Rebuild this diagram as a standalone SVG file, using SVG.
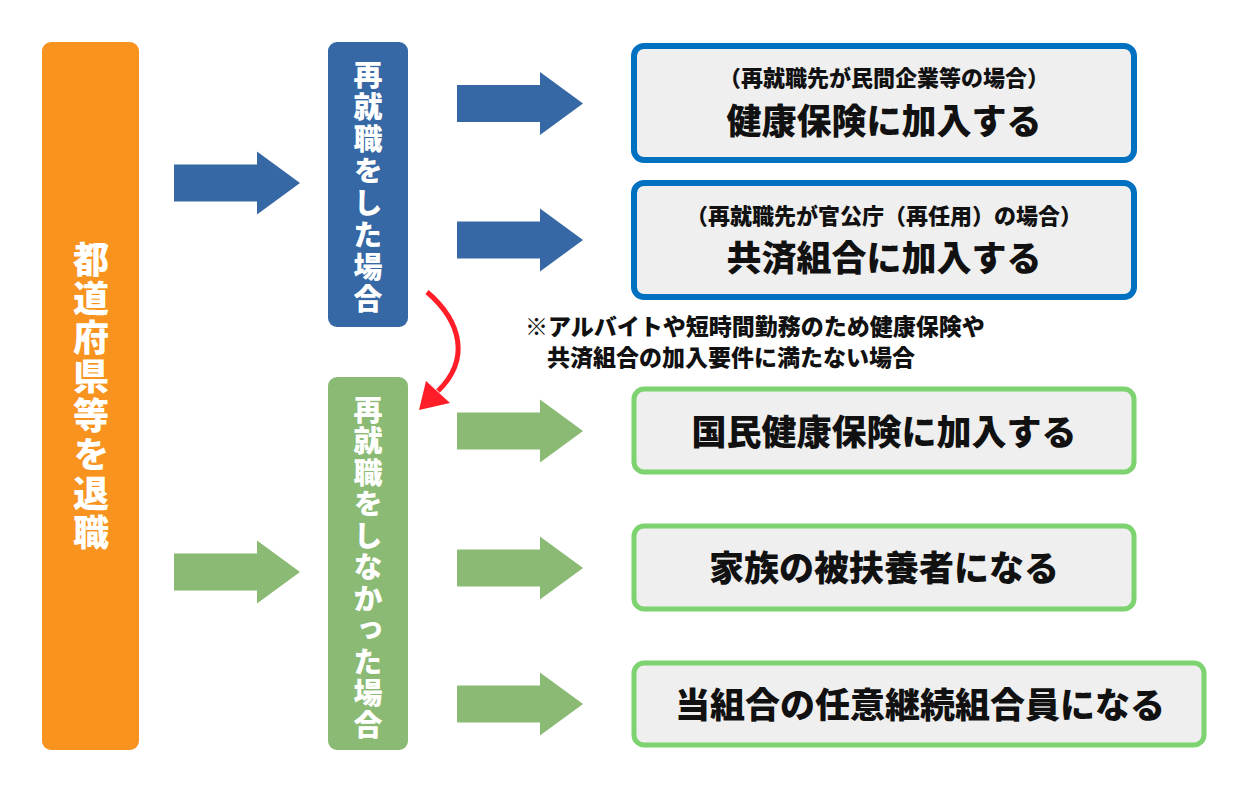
<svg xmlns="http://www.w3.org/2000/svg" width="1251" height="792" viewBox="0 0 1251 792">
<style>
.t{font-family:"Noto Sans CJK JP","Noto Sans",sans-serif;font-weight:900}
.v{writing-mode:vertical-rl;text-orientation:upright}
.w{fill:#ffffff}
.k{fill:#111111}
.bbox{fill:#EFEFEF;stroke:#0070C0;stroke-width:6}
.gbox{fill:#EFEFEF;stroke:#7DD36F;stroke-width:5}
.blue{fill:#3568A4}
.green{fill:#8BBA74}
</style>
<defs>
<path id="arr" d="M0,-18.5 H83 V-31.5 L126,0 L83,31.5 V18.5 H0 Z"/>
</defs>
<rect width="1251" height="792" fill="#ffffff"/>

<g id="connectors">
<use href="#arr" class="blue" transform="translate(174,183)"/>
<use href="#arr" class="green" transform="translate(174,572)"/>
<use href="#arr" class="blue" transform="translate(457,103.5)"/>
<use href="#arr" class="blue" transform="translate(457,240)"/>
<use href="#arr" class="green" transform="translate(457,431)"/>
<use href="#arr" class="green" transform="translate(457,568)"/>
<use href="#arr" class="green" transform="translate(457,704)"/>
<path d="M427,292 C462,322 470,360 438,391" fill="none" stroke="#FF1E27" stroke-width="5"/>
<polygon points="419,410 426,381 450,403" fill="#FF1E27"/>
</g>

<g id="retire">
<rect x="42" y="42" width="97" height="708" rx="9" fill="#F7931E"/>
<text class="t w v" font-size="36" letter-spacing="3" x="91" y="241">都道府県等を退職</text>
</g>

<g id="reemployed">
<rect x="328" y="42" width="80" height="285" rx="9" class="blue"/>
<text class="t w v" font-size="29" letter-spacing="3" x="368" y="60">再就職をした場合</text>
</g>

<g id="not-reemployed">
<rect x="328" y="377" width="80" height="373" rx="9" class="green"/>
<text class="t w v" font-size="29" letter-spacing="2.5" x="368" y="395">再就職をしなかった場合</text>
</g>

<g id="note">
<text class="t k" font-size="23" x="525" y="335">※アルバイトや短時間勤務のため健康保険や</text>
<text class="t k" font-size="23" x="547" y="366">共済組合の加入要件に満たない場合</text>
</g>

<g id="health-insurance">
<rect x="634" y="46" width="500" height="114" rx="10" class="bbox"/>
<text class="t k" font-size="22" x="884" y="86" text-anchor="middle">（再就職先が民間企業等の場合）</text>
<text class="t k" font-size="35" x="884" y="134" text-anchor="middle">健康保険に加入する</text>
</g>

<g id="mutual-aid">
<rect x="634" y="183" width="500" height="114" rx="10" class="bbox"/>
<text class="t k" font-size="22" x="884" y="224" text-anchor="middle">（再就職先が官公庁（再任用）の場合）</text>
<text class="t k" font-size="35" x="884" y="271" text-anchor="middle">共済組合に加入する</text>
</g>

<g id="national-health">
<rect x="634" y="389" width="500" height="83" rx="10" class="gbox"/>
<text class="t k" font-size="35" x="884" y="445" text-anchor="middle">国民健康保険に加入する</text>
</g>

<g id="dependent">
<rect x="634" y="526" width="500" height="83" rx="10" class="gbox"/>
<text class="t k" font-size="35" x="884" y="581" text-anchor="middle">家族の被扶養者になる</text>
</g>

<g id="voluntary">
<rect x="634" y="663" width="570" height="82" rx="10" class="gbox"/>
<text class="t k" font-size="35" x="920" y="718" text-anchor="middle">当組合の任意継続組合員になる</text>
</g>
</svg>
